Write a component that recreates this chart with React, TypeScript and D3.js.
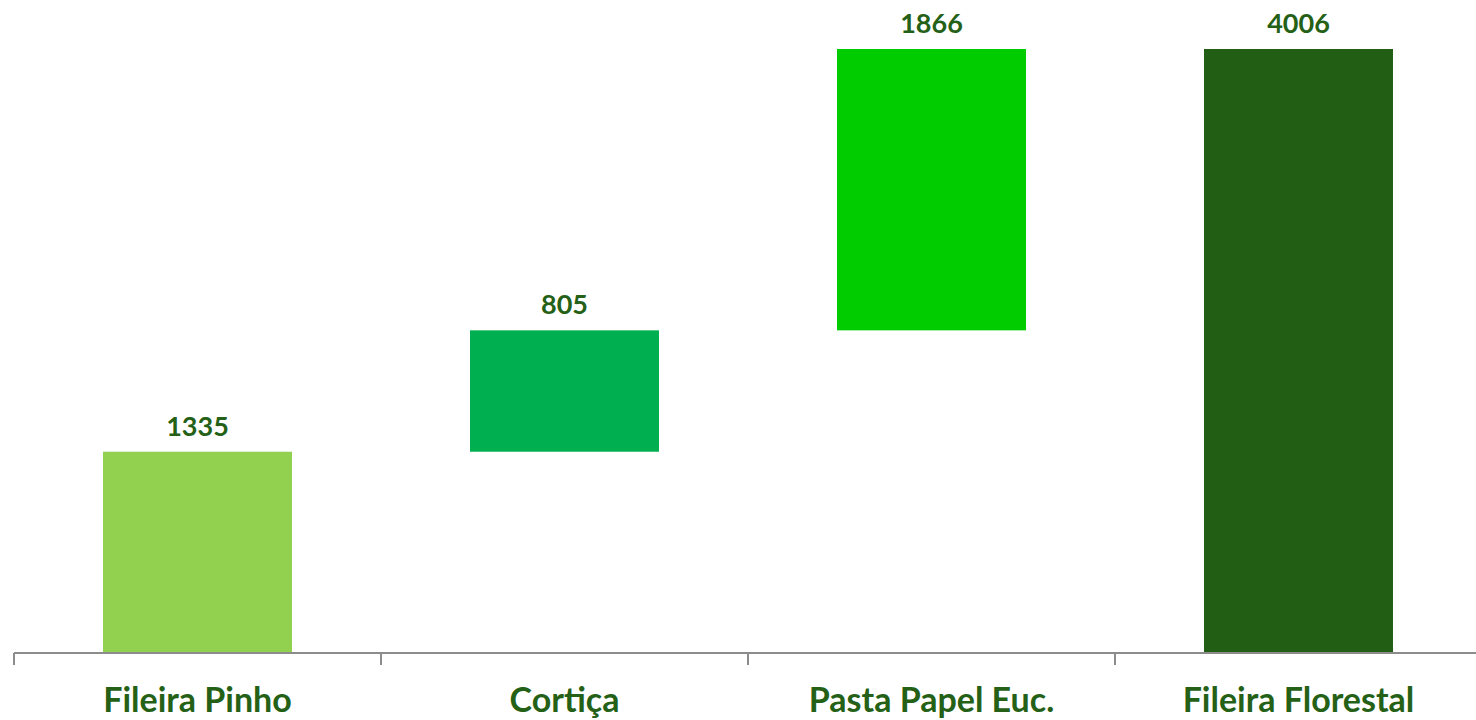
import * as d3 from 'd3';
import { useEffect, useRef } from 'react';

const width = 1476;
const height = 720;

const categories = ['Fileira Pinho', 'Cortiça', 'Pasta Papel Euc.', 'Fileira Florestal'];
const values = [1335, 805, 1866, 4006];
const isTotal = [false, false, false, true];
const colors = ['#92D050', '#00B050', '#00CC00', '#225E14'];
const textColor = '#246117';

function App() {
  const ref = useRef<HTMLDivElement>(null);

  useEffect(() => {
    document.body.style.margin = '0';
    const wrapper = d3.select(ref.current);
    const svg = wrapper
      .append('svg')
      .attr('width', width)
      .attr('height', height)
      .style('display', 'block')
      .style('font-family', 'Lato, "Open Sans", sans-serif');

    // waterfall bases
    let running = 0;
    const rows = categories.map((name, i) => {
      const v = values[i];
      const start = isTotal[i] ? 0 : running;
      const end = isTotal[i] ? v : running + v;
      if (!isTotal[i]) running += v;
      return { name, v, start, end, color: colors[i] };
    });

    const x = d3
      .scaleBand()
      .domain(categories)
      .range([14, 1482])
      .paddingInner(0.485)
      .paddingOuter(0.2425);

    const y = d3.scaleLinear().domain([0, 4006]).range([653, 49]);

    svg
      .append('g')
      .selectAll('rect')
      .data(rows)
      .join('rect')
      .attr('x', (d) => x(d.name) || 0)
      .attr('width', x.bandwidth())
      .attr('y', (d) => y(d.end))
      .attr('height', (d) => y(d.start) - y(d.end))
      .attr('fill', (d) => d.color);

    // axis
    const axis = svg.append('g').attr('stroke', '#8c8c8c').attr('stroke-width', 2);
    axis
      .append('line')
      .attr('x1', 14)
      .attr('x2', width)
      .attr('y1', y(0))
      .attr('y2', y(0));
    const off = x.step() * x.paddingOuter();
    axis
      .selectAll('line.tick')
      .data(categories)
      .join('line')
      .attr('class', 'tick')
      .attr('x1', (d) => (x(d) || 0) - off)
      .attr('x2', (d) => (x(d) || 0) - off)
      .attr('y1', y(0))
      .attr('y2', y(0) + 12);

    svg
      .append('g')
      .selectAll('text')
      .data(categories)
      .join('text')
      .attr('x', (d) => (x(d) || 0) + x.bandwidth() / 2)
      .attr('y', 712)
      .attr('text-anchor', 'middle')
      .attr('font-size', 34)
      .attr('font-weight', 'bold')
      .attr('fill', textColor)
      .text((d) => d);

    svg
      .append('g')
      .selectAll('text')
      .data(rows)
      .join('text')
      .attr('x', (d) => (x(d.name) || 0) + x.bandwidth() / 2)
      .attr('y', (d) => y(d.end) - 16)
      .attr('text-anchor', 'middle')
      .attr('font-size', 27)
      .attr('font-weight', 'bold')
      .attr('fill', textColor)
      .text((d) => d.v);

    return () => {
      wrapper.select('svg').remove();
    };
  }, []);

  return <div ref={ref}></div>;
}

export default App;
